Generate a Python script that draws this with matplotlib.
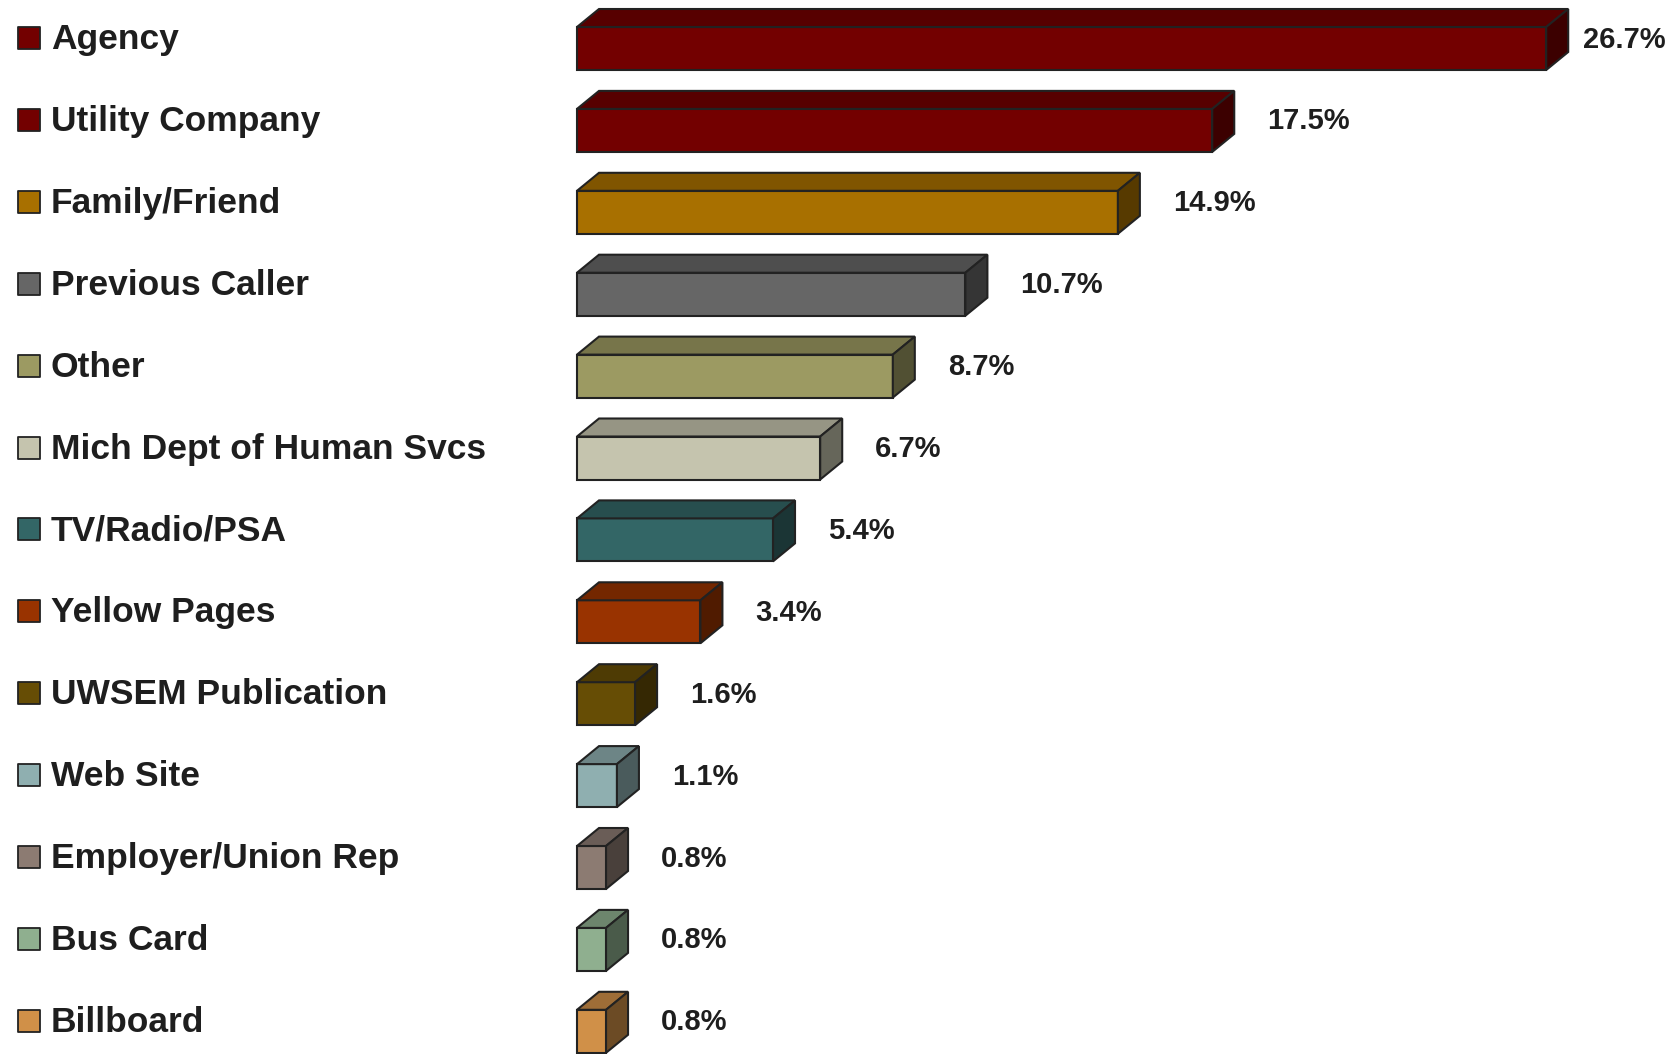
import matplotlib
matplotlib.use("Agg")
import matplotlib.pyplot as plt
from matplotlib.patches import Polygon
import matplotlib.colors as mcolors

plt.rcParams['font.family'] = ['Liberation Sans', 'DejaVu Sans']

sources = ["Agency", "Utility Company", "Family/Friend", "Previous Caller", "Other",
           "Mich Dept of Human Svcs", "TV/Radio/PSA", "Yellow Pages", "UWSEM Publication",
           "Web Site", "Employer/Union Rep", "Bus Card", "Billboard"]
percent = [26.7, 17.5, 14.9, 10.7, 8.7, 6.7, 5.4, 3.4, 1.6, 1.1, 0.8, 0.8, 0.8]
colors = ["#730000", "#730000", "#a87000", "#666666", "#9c9a62", "#c5c4ae", "#336666",
          "#993300", "#664d05", "#8fafb0", "#8c7b72", "#8faf8f", "#d09048"]

W, H = 1669, 1054
fig = plt.figure(figsize=(W / 100, H / 100), dpi=100)
ax = fig.add_axes([0, 0, 1, 1])

# pixel layout -> data scale
x0_px, px_per_pct = 577, 36.3
row0_px, row_px = 48.5, 81.9
ax.set_xlim(-x0_px / px_per_pct, (W - x0_px) / px_per_pct)
ax.set_ylim((H - row0_px) / row_px, -row0_px / row_px)
ax.axis('off')

h = 43 / row_px
dx = 22 / px_per_pct
dy = 18 / row_px
edge = "#222222"
txt = "#1e1e1e"

def shade(c, f):
    r, g, b = mcolors.to_rgb(c)
    return (r * f, g * f, b * f)

for i, (name, v, c) in enumerate(zip(sources, percent, colors)):
    top = i - h / 2
    bot = i + h / 2
    ax.barh(i, v, height=h, left=0, color=c, edgecolor=edge, linewidth=1.5, zorder=2)
    ax.add_patch(Polygon([(0, top), (v, top), (v + dx, top - dy), (dx, top - dy)],
                         closed=True, facecolor=shade(c, 0.76), edgecolor=edge,
                         linewidth=1.5, zorder=3))
    ax.add_patch(Polygon([(v, top), (v + dx, top - dy), (v + dx, bot - dy), (v, bot)],
                         closed=True, facecolor=shade(c, 0.52), edgecolor=edge,
                         linewidth=1.5, zorder=3))
    yc = i - dy / 2
    lx = min(v + dx + 33 / px_per_pct, (1583 - x0_px) / px_per_pct)
    ax.text(lx, yc, f"{v:.1f}%", ha='left', va='center', fontsize=21,
            fontweight='bold', color=txt)
    # legend entry
    ax.scatter([(28.5 - x0_px) / px_per_pct], [yc - 1.5 / row_px], marker='s', s=270,
               color=c, edgecolors=edge, linewidths=1.3, zorder=4)
    ax.text((51 - x0_px) / px_per_pct, yc, name, ha='left', va='center', fontsize=25.5,
            fontweight='bold', color=txt)

fig.savefig("out.png", dpi=100)
